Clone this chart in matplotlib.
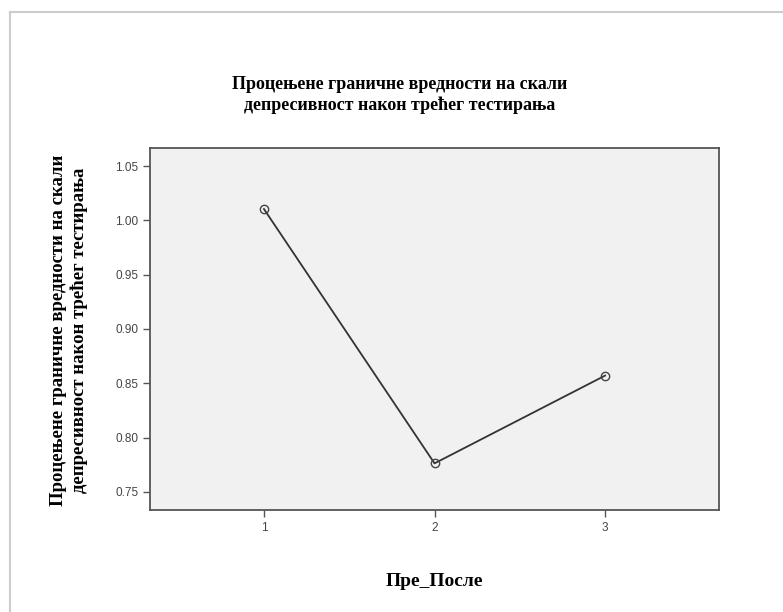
import matplotlib
matplotlib.use("Agg")
import matplotlib.pyplot as plt
from matplotlib.lines import Line2D

groups = [1, 2, 3]
means = [1.0104, 0.7763, 0.8571]
yticks = [0.75, 0.80, 0.85, 0.90, 0.95, 1.00, 1.05]

title = "Процењене граничне вредности на скали\nдепресивност након трећег тестирања"
ylabel = "Процењене граничне вредности на скали\nдепресивност након трећег тестирања"
xlabel = "Пре_После"

serif = {"family": "Liberation Serif", "weight": "bold"}

fig = plt.figure(figsize=(7.83, 6.12), dpi=100)
ax = fig.add_axes([0.1916, 0.1667, 0.7267, 0.5915])
ax.set_facecolor("#f1f1f1")

ax.plot(groups, means, color="#333333", linewidth=1.3, marker="o",
        markersize=6, markerfacecolor="none", markeredgecolor="#444444",
        markeredgewidth=1.0)

ax.set_xlim(0.332, 3.668)
ax.set_ylim(0.7334, 1.0666)
ax.set_xticks(groups)
ax.set_yticks(yticks)
ax.set_yticklabels([f"{v:.2f}" for v in yticks])

for s in ax.spines.values():
    s.set_color("#555555")
    s.set_linewidth(1.3)
ax.tick_params(direction="out", length=5, width=1.0, color="#555555",
               labelsize=8.5, labelcolor="#444444")
for lab in ax.get_xticklabels() + ax.get_yticklabels():
    lab.set_fontfamily("Liberation Sans")

fig.text(400 / 783, 1 - 95 / 612, title, ha="center", va="center",
         fontsize=13, linespacing=1.28, **serif)
fig.text(69 / 783, 1 - 330 / 612, ylabel, ha="center", va="center",
         rotation=90, fontsize=13.5, linespacing=1.28, **serif)
fig.text(434 / 783, 1 - 581 / 612, xlabel, ha="center", va="center",
         fontsize=14, **serif)

# outer frame (top and left only)
fig.add_artist(Line2D([10 / 783, 1.0], [1 - 12 / 612, 1 - 12 / 612],
                      transform=fig.transFigure, color="#cccccc", linewidth=1.5))
fig.add_artist(Line2D([10 / 783, 10 / 783], [0.0, 1 - 12 / 612],
                      transform=fig.transFigure, color="#cccccc", linewidth=1.5))

fig.savefig("out.png", dpi=100, facecolor="white")
